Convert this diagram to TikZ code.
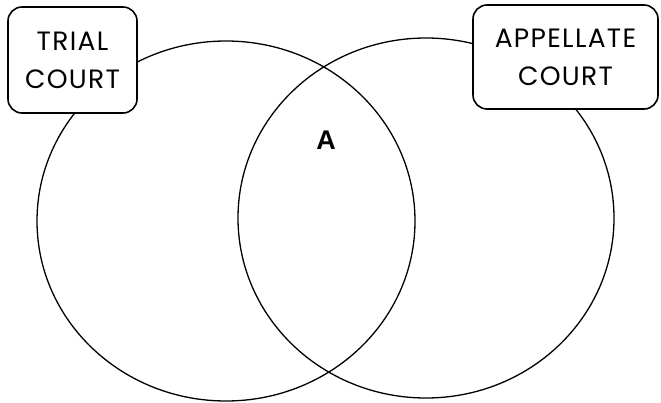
\documentclass[tikz,border=0pt]{standalone}
\usepackage{fontspec}
\setmainfont{Poppins}[LetterSpace=5]
\newfontfamily\labelfont{Liberation Sans}
\usepackage{tikz}

\begin{document}
\begin{tikzpicture}[x=1pt,y=-1pt,
  courtbox/.style={draw=black, line width=1.6pt, fill=white, rounded corners=14pt,
    align=center, inner sep=0pt, font=\fontsize{26.5}{38}\selectfont},
  setline/.style={black, line width=1.3pt}]
\useasboundingbox (0,0) rectangle (661,402);
% the two sets
\draw [setline] (226,221) ellipse [x radius=189pt, y radius=180pt];
\draw [setline] (426,218) ellipse [x radius=188pt, y radius=180pt];
% labels of the sets
\node [courtbox, minimum width=129pt, minimum height=106pt] (trial) at (72.5,60) {TRIAL\\COURT};
\node [courtbox, minimum width=185pt, minimum height=104pt] (appellate) at (565.5,57) {APPELLATE\\COURT};
% overlap
\node [font=\labelfont\bfseries\fontsize{27}{27}\selectfont] (overlap) at (326,140) {A};
\end{tikzpicture}
\end{document}
